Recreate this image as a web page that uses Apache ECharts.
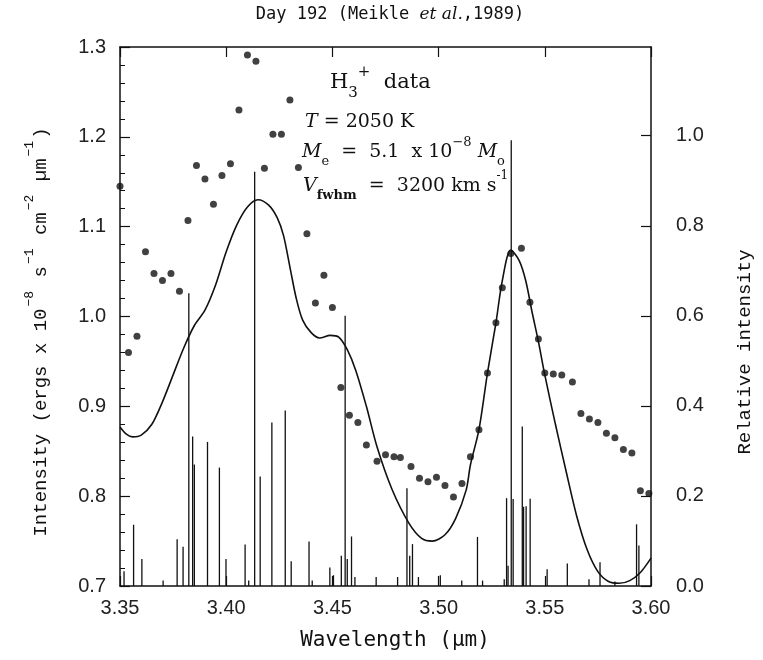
<!DOCTYPE html>
<html><head><meta charset="utf-8">
<script src="https://cdn.jsdelivr.net/npm/echarts@6/dist/echarts.min.js"></script>
<style>html,body{margin:0;padding:0;background:#fff}#c{width:763px;height:660px}</style>
</head><body><div id="c"></div>
<script>
// Observed flux points (left axis)
const dotX = [3.350,3.354,3.358,3.362,3.366,3.370,3.374,3.378,3.382,3.386,3.390,3.394,3.398,3.402,3.406,3.410,3.414,3.418,3.422,3.426,3.430,3.434,3.438,3.442,3.446,3.450,3.454,3.458,3.462,3.466,3.471,3.475,3.479,3.482,3.487,3.491,3.495,3.499,3.503,3.507,3.511,3.515,3.519,3.523,3.527,3.530,3.534,3.539,3.543,3.547,3.550,3.554,3.558,3.563,3.567,3.571,3.575,3.579,3.583,3.587,3.591,3.595,3.599];
const dotY = [1.145,0.960,0.978,1.072,1.048,1.040,1.048,1.028,1.107,1.168,1.153,1.125,1.157,1.170,1.230,1.291,1.284,1.165,1.203,1.203,1.241,1.166,1.092,1.015,1.046,1.010,0.921,0.890,0.882,0.857,0.839,0.846,0.844,0.843,0.833,0.820,0.816,0.821,0.812,0.799,0.814,0.844,0.874,0.937,0.993,1.032,1.070,1.076,1.016,0.975,0.937,0.936,0.935,0.927,0.892,0.886,0.882,0.870,0.865,0.852,0.848,0.806,0.803];
// Model curve (left axis)
const modelX = [3.350,3.353,3.356,3.360,3.365,3.370,3.375,3.380,3.385,3.390,3.395,3.400,3.405,3.410,3.415,3.420,3.424,3.427,3.430,3.433,3.436,3.440,3.444,3.449,3.453,3.457,3.461,3.466,3.471,3.478,3.486,3.492,3.497,3.503,3.508,3.513,3.515,3.519,3.523,3.527,3.530,3.534,3.538,3.541,3.544,3.547,3.550,3.555,3.560,3.565,3.570,3.575,3.580,3.585,3.590,3.595,3.600];
const modelY = [0.877,0.869,0.866,0.868,0.880,0.905,0.935,0.965,0.990,1.007,1.035,1.072,1.102,1.122,1.130,1.124,1.110,1.090,1.055,1.020,0.996,0.982,0.976,0.979,0.977,0.963,0.940,0.900,0.855,0.808,0.770,0.753,0.750,0.757,0.775,0.807,0.835,0.874,0.937,0.993,1.040,1.074,1.062,1.040,1.005,0.972,0.935,0.880,0.828,0.778,0.740,0.716,0.705,0.703,0.706,0.715,0.731];
// H3+ line list (right axis, relative intensity)
const lineX = [3.3519,3.3564,3.3603,3.3703,3.3769,3.3797,3.3824,3.3842,3.3850,3.3912,3.3968,3.3999,3.4089,3.4106,3.4134,3.4160,3.4215,3.4278,3.4306,3.4390,3.4405,3.4488,3.4505,3.4542,3.4560,3.4570,3.4590,3.4606,3.4706,3.4807,3.4851,3.4864,3.4877,3.4905,3.5008,3.5109,3.5183,3.5207,3.5309,3.5320,3.5327,3.5342,3.5351,3.5394,3.5400,3.5412,3.5431,3.5511,3.5606,3.5708,3.5760,3.5830,3.5932,3.5943];
const lineRel = [0.033,0.136,0.060,0.012,0.104,0.087,0.650,0.332,0.270,0.320,0.263,0.060,0.092,0.012,0.920,0.243,0.363,0.390,0.055,0.099,0.012,0.041,0.024,0.067,0.600,0.060,0.110,0.020,0.020,0.020,0.217,0.067,0.093,0.020,0.024,0.012,0.109,0.012,0.015,0.195,0.045,0.990,0.193,0.354,0.176,0.177,0.194,0.037,0.050,0.015,0.053,0.010,0.137,0.090];
const xMin = 3.35, xMax = 3.60, xStep = 0.05;
const yMin = 0.7, yMax = 1.3, yStep = 0.1;
const rMin = 0, rMax = 1.197, rStep = 0.2;

const ink = '#111';
const sans = "'Liberation Sans', Arial, sans-serif";
const serif = "'DejaVu Serif', serif";
const mono = "'DejaVu Sans Mono', monospace";
const tmono = "'Liberation Mono', monospace";

const chart = echarts.init(document.getElementById('c'), null, {renderer:'canvas'});
const axisLineStyle = {show:true, onZero:false, lineStyle:{color:ink, width:1.5}};
const tickStyle = {show:true, inside:true, length:10, lineStyle:{color:ink, width:1.2}};
const labelStyle = {color:'#222', fontSize:20, fontFamily:sans};

chart.setOption({
  animation:false,
  backgroundColor:'#fff',
  grid:{left:120, right:112, top:47, bottom:74, containLabel:false},
  xAxis:[
    {type:'value', min:xMin, max:xMax, interval:xStep, position:'bottom',
     axisLine:axisLineStyle, axisTick:tickStyle, splitLine:{show:false},
     axisLabel:Object.assign({margin:12, formatter:v=>v.toFixed(2)}, labelStyle)},
    {type:'value', min:xMin, max:xMax, interval:xStep, position:'top',
     axisLine:axisLineStyle, axisTick:tickStyle, splitLine:{show:false}, axisLabel:{show:false}}
  ],
  yAxis:[
    {type:'value', min:yMin, max:yMax, interval:yStep, position:'left',
     axisLine:axisLineStyle, axisTick:tickStyle, splitLine:{show:false},
     minorTick:{show:true, splitNumber:5, length:5, lineStyle:{color:ink, width:1}},
     axisLabel:Object.assign({margin:14, formatter:v=>v.toFixed(1)}, labelStyle)},
    {type:'value', min:rMin, max:rMax, interval:rStep, position:'right',
     axisLine:axisLineStyle, axisTick:tickStyle, splitLine:{show:false},
     axisLabel:Object.assign({margin:25, showMaxLabel:false, formatter:v=> v>1.05 ? '' : v.toFixed(1)}, labelStyle)}
  ],
  series:[
    {type:'custom', xAxisIndex:0, yAxisIndex:1, silent:true, clip:true,
     encode:{x:0, y:1},
     data: lineX.map((x,i)=>[x, lineRel[i]]),
     renderItem:(params, api)=>{
       const p0 = api.coord([api.value(0), 0]);
       const p1 = api.coord([api.value(0), api.value(1)]);
       return {type:'line', shape:{x1:p0[0], y1:p0[1], x2:p1[0], y2:p1[1]},
               style:{stroke:ink, lineWidth:1.3}};
     }},
    {type:'line', xAxisIndex:0, yAxisIndex:0, data: modelX.map((x,i)=>[x, modelY[i]]),
     smooth:0.3, showSymbol:false, symbol:'none', lineStyle:{color:ink, width:1.6}, silent:true},
    {type:'scatter', xAxisIndex:0, yAxisIndex:0, data: dotX.map((x,i)=>[x, dotY[i]]),
     symbol:'circle', symbolSize:7, itemStyle:{color:ink}, silent:true}
  ],
  graphic:[
    {type:'text', x:390, y:15, style:{
      text:'{n|Day 192 (Meikle }{i|et al.}{n|,1989)}', align:'center', verticalAlign:'middle',
      rich:{n:{fontFamily:mono, fontSize:17, fill:ink}, i:{fontFamily:serif, fontStyle:'italic', fontSize:17, fill:ink}}}},
    {type:'text', x:395, y:641, style:{
      text:'Wavelength (µm)', fontFamily:mono, fontSize:21, fill:ink, align:'center', verticalAlign:'middle'}},
    {type:'text', x:41, y:332, rotation:Math.PI/2, style:{
      text:'{n|Intensity (ergs x 10}{s|−8}{n| s}{s|−1}{n| cm}{s|−2}{n| µm}{s|−1}{n|)}',
      align:'center', verticalAlign:'middle',
      rich:{n:{fontFamily:tmono, fontSize:19, lineHeight:36, fill:ink},
            s:{fontFamily:tmono, fontSize:13, lineHeight:14, verticalAlign:'top', fill:ink, padding:[0,2,0,2]}}}},
    {type:'text', x:745, y:352, rotation:Math.PI/2, style:{
      text:'Relative intensity', fontFamily:tmono, fontSize:19, fill:ink, align:'center', verticalAlign:'middle'}},
    {type:'text', x:330, y:83, style:{
      text:'{n|H}{b|3}{s|+}{n|  data}', verticalAlign:'middle',
      rich:{n:{fontFamily:serif, fontSize:21, lineHeight:36, fill:ink},
            b:{fontFamily:serif, fontSize:15, lineHeight:16, verticalAlign:'bottom', fill:ink},
            s:{fontFamily:serif, fontSize:15, lineHeight:16, verticalAlign:'top', fill:ink}}}},
    {type:'text', x:305, y:122, style:{
      text:'{i|T}{n| = 2050 K}', verticalAlign:'middle',
      rich:{n:{fontFamily:serif, fontSize:19, lineHeight:30, fill:ink},
            i:{fontFamily:serif, fontStyle:'italic', fontSize:19, lineHeight:30, fill:ink}}}},
    {type:'text', x:302, y:152, style:{
      text:'{i|M}{b|e}{n|  =  5.1  x 10}{s|−8}{n| }{i|M}{b|o}', verticalAlign:'middle',
      rich:{n:{fontFamily:serif, fontSize:19, lineHeight:32, fill:ink},
            i:{fontFamily:serif, fontStyle:'italic', fontSize:19, lineHeight:32, fill:ink},
            b:{fontFamily:serif, fontSize:13, lineHeight:14, verticalAlign:'bottom', fill:ink},
            s:{fontFamily:serif, fontSize:13, lineHeight:14, verticalAlign:'top', fill:ink}}}},
    {type:'text', x:303, y:186, style:{
      text:'{i|V}{b|fwhm}{n|  =  3200 km s}{s|-1}', verticalAlign:'middle',
      rich:{n:{fontFamily:serif, fontSize:19, lineHeight:32, fill:ink},
            i:{fontFamily:serif, fontStyle:'italic', fontSize:19, lineHeight:32, fill:ink},
            b:{fontFamily:serif, fontWeight:'bold', fontSize:13, lineHeight:14, verticalAlign:'bottom', fill:ink},
            s:{fontFamily:serif, fontSize:12, lineHeight:14, verticalAlign:'top', fill:ink}}}}
  ]
});
</script>
</body></html>
